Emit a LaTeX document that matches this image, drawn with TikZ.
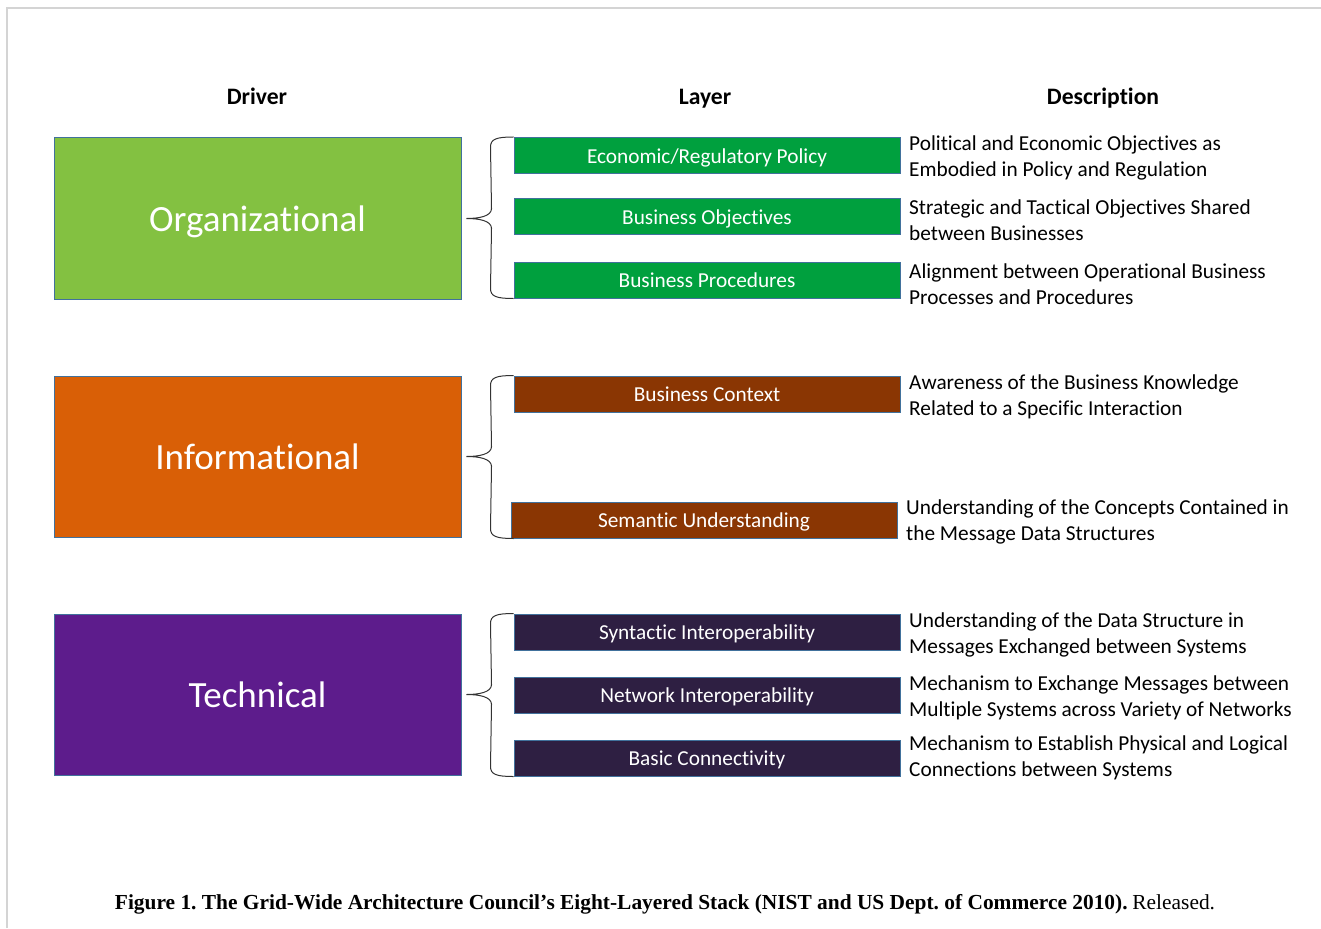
\documentclass[tikz,border=0pt]{standalone}
\usepackage{fontspec}
\setmainfont{Carlito}[Ligatures={NoCommon}]
\newfontfamily\capfont{Liberation Serif}
\usetikzlibrary{calc}
\definecolor{orgc}{HTML}{83C141}
\definecolor{infc}{HTML}{D95F06}
\definecolor{tecc}{HTML}{5D1C8C}
\definecolor{lgreen}{HTML}{00A03E}
\definecolor{lbrown}{HTML}{8A3603}
\definecolor{lpurple}{HTML}{2E1F42}
\definecolor{bordc}{HTML}{41719C}
\definecolor{framec}{HTML}{D4D4D4}
\tikzset{
  driverbox/.style={draw=bordc, line width=1pt, minimum width=407pt, minimum height=161pt, text=white, inner sep=0pt, font=\fontsize{37}{40}\selectfont, text height=25pt, text depth=0pt},
  layerbox/.style={draw=bordc, line width=1pt, minimum width=386pt, minimum height=36pt, text=white, inner sep=0pt, font=\fontsize{21.3}{24}\selectfont, text height=19pt, text depth=3.3pt},
  desc/.style={anchor=west, align=left, inner sep=0pt, font=\fontsize{21.3}{26}\selectfont},
  head/.style={anchor=base, inner sep=0pt, font=\bfseries\fontsize{23.6}{26}\selectfont},
  bracec/.style={draw=black!80, line width=1pt},
}
\newcommand\mybrace[3]{%
  \draw[bracec] (#1) .. controls +(-17,0) and +(0,-8) .. ($(#1)+(-23,10)$)
    -- ($(#3)+(25,-10)$) .. controls +(0,8) and +(12,0) .. (#3)
    .. controls +(12,0) and +(0,-8) .. ($(#3)+(25,10)$)
    -- ($(#2)+(-23,-10)$) .. controls +(0,8) and +(-17,0) .. (#2);}
\begin{document}
\frenchspacing
\begin{tikzpicture}[x=1pt,y=-1pt]
\useasboundingbox (0,0) rectangle (1321,928);
\draw[framec, line width=1.2pt] (7,928) -- (7,8) -- (1321,8);

\node[head] (hd) at (257,105) {Driver};
\node[head] (hl) at (705,105) {Layer};
\node[head] (hs) at (1103,105) {Description};

\node[driverbox, fill=orgc] (org) at (257.5,218.5) {Organizational};
\node[driverbox, fill=infc] (inf) at (257.5,456.5) {Informational};
\node[driverbox, fill=tecc] (tec) at (257.5,694.5) {Technical};

\node[layerbox, fill=lgreen] (econ) at (707,155.5) {Economic/Regulatory Policy};
\node[layerbox, fill=lgreen] (bobj) at (707,216.5) {Business Objectives};
\node[layerbox, fill=lgreen] (bproc) at (707,280) {Business Procedures};
\node[layerbox, fill=lbrown] (bctx) at (707,394) {Business Context};
\node[layerbox, fill=lbrown] (sem) at (704,520) {Semantic Understanding};
\node[layerbox, fill=lpurple] (syn) at (707,632) {Syntactic Interoperability};
\node[layerbox, fill=lpurple] (net) at (707,695) {Network Interoperability};
\node[layerbox, fill=lpurple] (basic) at (707,758) {Basic Connectivity};

\node[desc] (d1) at (909,158) {Political and Economic Objectives as\\Embodied in Policy and Regulation};
\node[desc] (d2) at (909,220) {Strategic and Tactical Objectives Shared\\between Businesses};
\node[desc] (d3) at (909,284) {Alignment between Operational Business\\Processes and Procedures};
\node[desc] (d4) at (909,397) {Awareness of the Business Knowledge\\Related to a Specific Interaction};
\node[desc] (d5) at (906,522) {Understanding of the Concepts Contained in\\the Message Data Structures};
\node[desc] (d6) at (909,635) {Understanding of the Data Structure in\\Messages Exchanged between Systems};
\node[desc] (d7) at (909,698) {Mechanism to Exchange Messages between\\Multiple Systems across Variety of Networks};
\node[desc] (d8) at (909,758) {Mechanism to Establish Physical and Logical\\Connections between Systems};

\coordinate (t1) at ($(org.east)+(5,0)$);
\coordinate (t2) at ($(inf.east)+(5,0)$);
\coordinate (t3) at ($(tec.east)+(5,0)$);
\coordinate (sb) at (bctx.west |- sem.south);
\mybrace{econ.north west}{bproc.south west}{t1}
\mybrace{bctx.north west}{sb}{t2}
\mybrace{syn.north west}{basic.south west}{t3}

\node[font=\fontsize{21.4}{24}\selectfont] (cap) at (665,904) {{\capfont\bfseries Figure 1. The Grid-Wide Architecture Council’s Eight-Layered Stack (NIST and US Dept. of Commerce 2010).} {\capfont Released.}};
\end{tikzpicture}
\end{document}
